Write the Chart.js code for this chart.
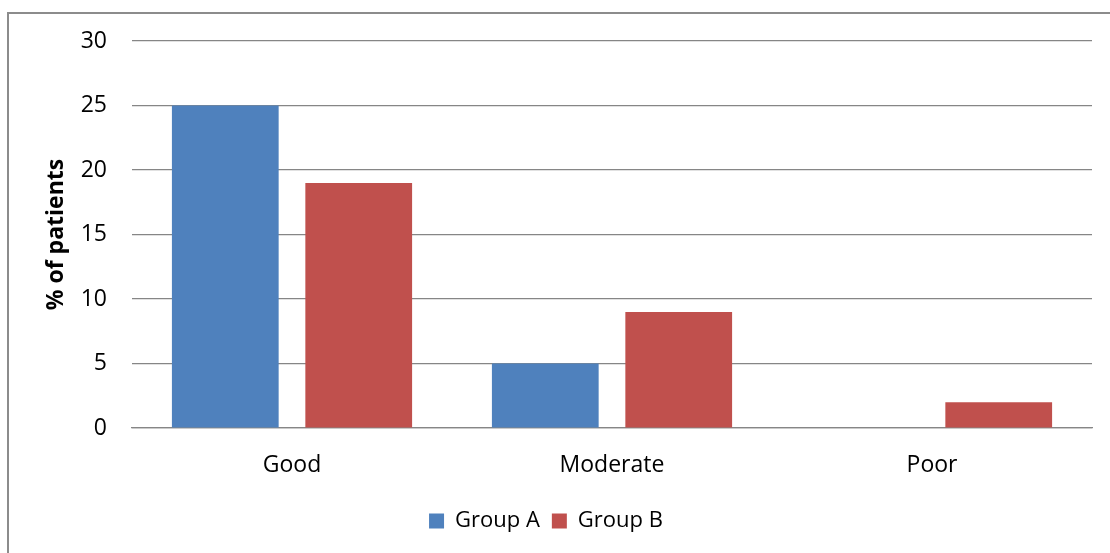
<!DOCTYPE html>
<html>
<head>
<meta charset="utf-8">
<script src="https://cdn.jsdelivr.net/npm/chart.js@4.4.1/dist/chart.umd.min.js"></script>
<style>
  html, body { margin: 0; padding: 0; background: #fff; overflow: hidden; }
  #frame {
    position: absolute; left: 7px; top: 12px; width: 1120px; height: 560px;
    border: 2px solid #8c8c8c;
  }
  #wrap { position: absolute; left: 0; top: 0; width: 1110px; height: 553px; }
</style>
</head>
<body>
<div id="frame"></div>
<div id="wrap"><canvas id="outcomeChart"></canvas></div>
<script>
const categories = ["Good", "Moderate", "Poor"];
const groupA = [25, 5, 0];
const groupB = [19, 9, 2];
const yTicks = [0, 5, 10, 15, 20, 25, 30];

const FONT = "'Open Sans', 'DejaVu Sans', sans-serif";
const GRID = "#868686";

new Chart(document.getElementById("outcomeChart").getContext("2d"), {
  type: "bar",
  data: {
    labels: categories,
    datasets: [
      { label: "Group A", data: groupA, backgroundColor: "#4f81bd", borderWidth: 0 },
      { label: "Group B", data: groupB, backgroundColor: "#c0504d", borderWidth: 0 },
    ],
  },
  options: {
    responsive: true,
    maintainAspectRatio: false,
    animation: false,
    categoryPercentage: 0.834,
    barPercentage: 0.8,
    layout: { padding: { top: 41, right: 18, bottom: 11, left: 0 } },
    plugins: {
      tooltip: { enabled: false },
      legend: {
        position: "bottom",
        labels: {
          color: "#000",
          font: { family: FONT, size: 22 },
          boxWidth: 15,
          boxHeight: 15,
          padding: 12,
        },
      },
    },
    scales: {
      x: {
        grid: { display: false },
        border: { display: true, color: GRID, width: 1.3 },
        ticks: { color: "#000", font: { family: FONT, size: 23 }, padding: 16 },
        afterFit: (s) => { s.height = 70; },
      },
      y: {
        min: 0,
        max: 30,
        afterBuildTicks: (s) => { s.ticks = yTicks.map((v) => ({ value: v })); },
        grid: { color: GRID, lineWidth: 1.2, drawTicks: false },
        border: { display: false },
        ticks: { color: "#000", font: { family: FONT, size: 23 }, padding: 25 },
        title: {
          display: true,
          text: "% of patients",
          color: "#000",
          font: { family: FONT, size: 23, weight: "bold" },
          padding: { top: 43, bottom: 0 },
        },
        afterFit: (s) => { s.width = 132; },
      },
    },
  },
});
</script>
</body>
</html>
